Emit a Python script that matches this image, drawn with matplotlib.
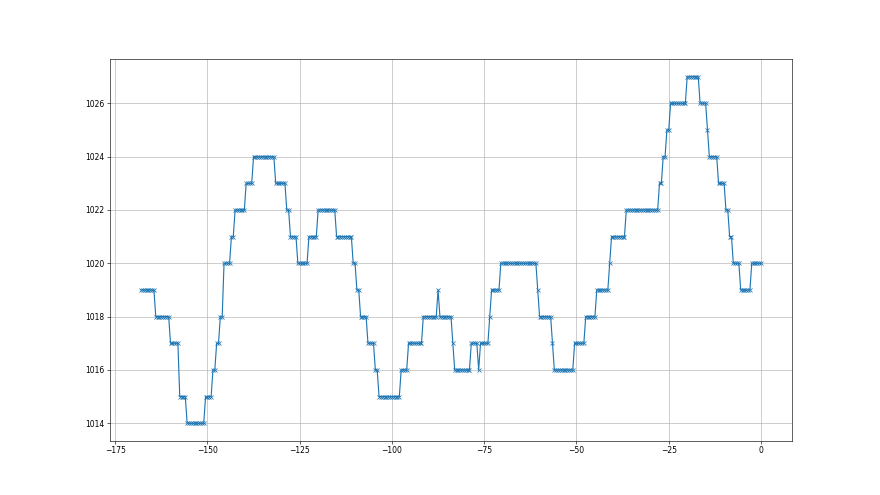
#!/usr/bin/env python3
# -*- coding: utf-8 -*-
"""Pressure readings over the last week (hours before now)."""

import numpy as np
import matplotlib
matplotlib.use("Agg")
import matplotlib.pyplot as plt

# readings every half hour, from -168 h to 0 h
STEP = 0.5
X_START = -168.0
X_END = 0.0

# pressure level and the first hour at which it was read
levels = [1019, 1018, 1017, 1015, 1014, 1015, 1016, 1017, 1018, 1020,
          1021, 1022, 1023, 1024, 1023, 1022, 1021, 1020, 1021, 1022,
          1021, 1020, 1019, 1018, 1017, 1016, 1015, 1016, 1017, 1018,
          1019, 1018, 1017, 1016, 1017, 1016, 1017, 1018, 1019, 1020,
          1019, 1018, 1017, 1016, 1017, 1018, 1019, 1020, 1021, 1022,
          1023, 1024, 1025, 1026, 1027, 1026, 1025, 1024, 1023, 1022,
          1021, 1020, 1019, 1020]
level_start = [-168, -164, -160, -157.5, -155.5, -150.5, -148.5, -147.5, -146.5, -145.5,
               -143.5, -142.5, -139.5, -137.5, -131.5, -128.5, -127.5, -125.5, -122.5, -120,
               -115, -110.5, -109.5, -108.5, -106.5, -104.5, -103.5, -97.5, -95.5, -91.5,
               -87.5, -87, -83.5, -83, -78.5, -76.5, -76, -73.5, -73, -70.5,
               -60.5, -60, -56.5, -56, -50.5, -47.5, -44.5, -41, -40.5, -36.5,
               -27.5, -26.5, -25.5, -24.5, -20, -16.5, -14.5, -14, -11.5, -9.5,
               -8.5, -7.5, -5.5, -2.5]


def build_series():
    """Expand the level table into one reading per time step"""
    hours = np.arange(X_START, X_END + STEP / 2, STEP)
    idx = np.searchsorted(level_start, hours, side="right") - 1
    pressure = np.array(levels)[idx]
    return hours, pressure


def main():
    hours, pressure = build_series()

    fig, ax = plt.subplots(figsize=(16, 9), dpi=55)
    ax.plot(hours, pressure, marker="x", color="#1f77b4", linewidth=1.5, markersize=6)

    ax.set_xticks(np.arange(-175, 1, 25))
    ax.set_yticks(np.arange(1014, 1027, 2))
    ax.grid(True, color="#b0b0b0", linewidth=0.8)

    fig.savefig("out.png", dpi=55)
    plt.close(fig)


if __name__ == "__main__":
    main()
